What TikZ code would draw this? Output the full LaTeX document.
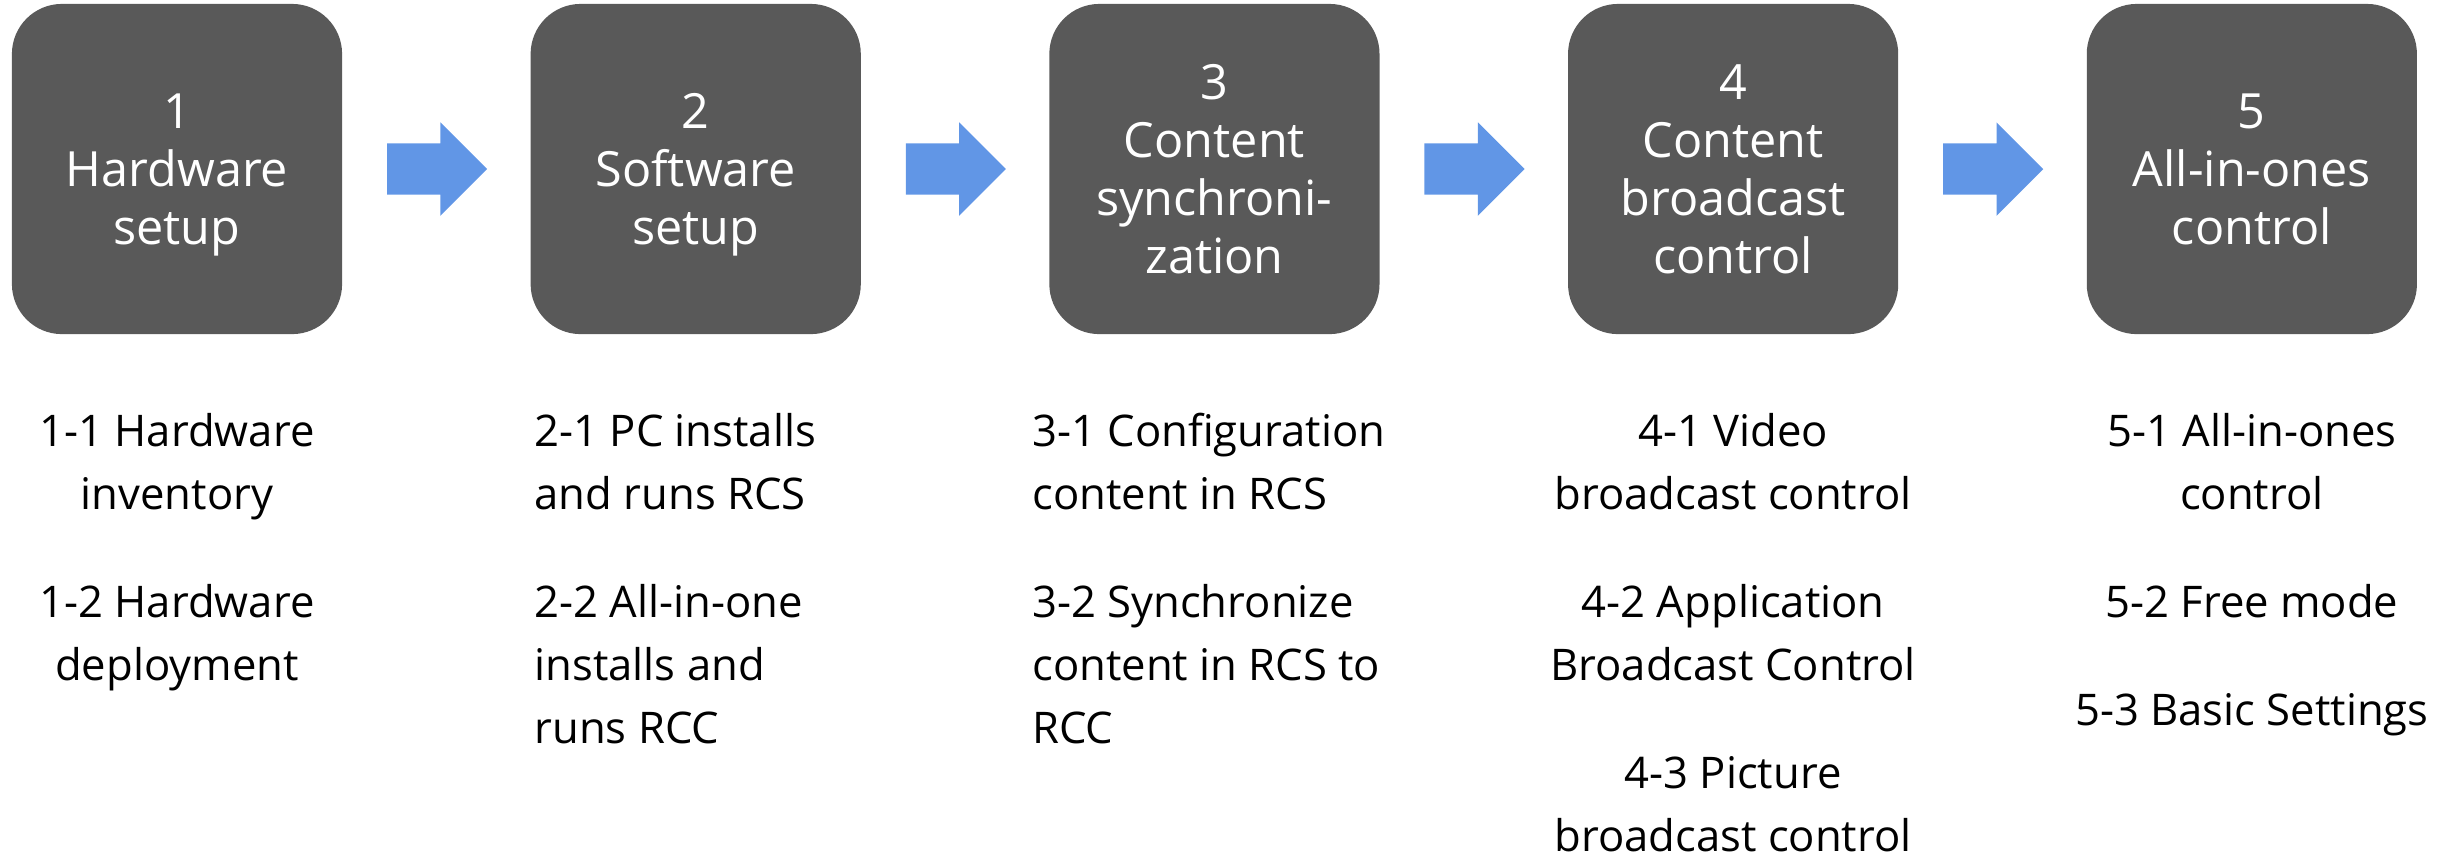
\documentclass[tikz,border=0pt]{standalone}
\usepackage{fontspec}
\setmainfont{Open Sans}
\usepackage{tikz}
\usetikzlibrary{positioning, shapes.arrows, calc}
\definecolor{stagegray}{RGB}{89,89,89}
\definecolor{flowblue}{RGB}{97,150,230}

\begin{document}
\begin{tikzpicture}[x=0.01cm, y=-0.01cm,
    stagebox/.style={rectangle, rounded corners=0.5cm, fill=stagegray, text=white,
      minimum width=3.3cm, minimum height=3.3cm, inner sep=0pt, align=center,
      text depth=0pt, font=\fontsize{13.8}{16.5}\selectfont},
    flowarrow/.style={single arrow, fill=flowblue, draw=none, inner xsep=0pt,
      inner ysep=0.25cm, minimum height=1cm, minimum width=0pt,
      single arrow head extend=0.21cm, anchor=tail},
    tasklist/.style={inner sep=0pt, font=\fontsize{12.4}{17.9}\selectfont}]
  \useasboundingbox (0,0) rectangle (2458,856);

  % Stage boxes
  \node[stagebox] (s1) at (177,169) {1\\Hardware\\setup};
  \node[stagebox, right=1.87cm of s1] (s2) {2\\Software\\setup};
  \node[stagebox, right=1.87cm of s2] (s3) {3\\Content\\synchroni-\\zation};
  \node[stagebox, right=1.87cm of s3] (s4) {4\\Content\\broadcast\\control};
  \node[stagebox, right=1.87cm of s4] (s5) {5\\All-in-ones\\control};

  % Arrows between stages
  \foreach \a/\b in {s1/s2, s2/s3, s3/s4, s4/s5} {
    \node[flowarrow] (\a\b) at ($(\a.east)!0.5!(\b.west)+(-50,0)$) {};
  }

  % Task lists under each stage
  \node[tasklist, anchor=north, align=center] (t1) at ([yshift=-0.78cm]s1.south)
    {1-1 Hardware\\inventory\\[12.8pt]1-2 Hardware\\deployment};
  \node[tasklist, anchor=north west, align=left] (t2) at ([xshift=0.04cm, yshift=-0.78cm]s2.south west)
    {2-1 PC installs\\and runs RCS\\[12.8pt]2-2 All-in-one\\installs and\\runs RCC};
  \node[tasklist, anchor=north west, align=left] (t3) at ([xshift=-0.17cm, yshift=-0.78cm]s3.south west)
    {3-1 Configuration\\content in RCS\\[12.8pt]3-2 Synchronize\\content in RCS to\\RCC};
  \node[tasklist, anchor=north, align=center] (t4) at ([yshift=-0.78cm]s4.south)
    {4-1 Video\\broadcast control\\[12.8pt]4-2 Application\\Broadcast Control\\[12.8pt]4-3 Picture\\broadcast control};
  \node[tasklist, anchor=north, align=center] (t5) at ([yshift=-0.78cm]s5.south)
    {5-1 All-in-ones\\control\\[12.8pt]5-2 Free mode\\[12.8pt]5-3 Basic Settings};
\end{tikzpicture}
\end{document}
